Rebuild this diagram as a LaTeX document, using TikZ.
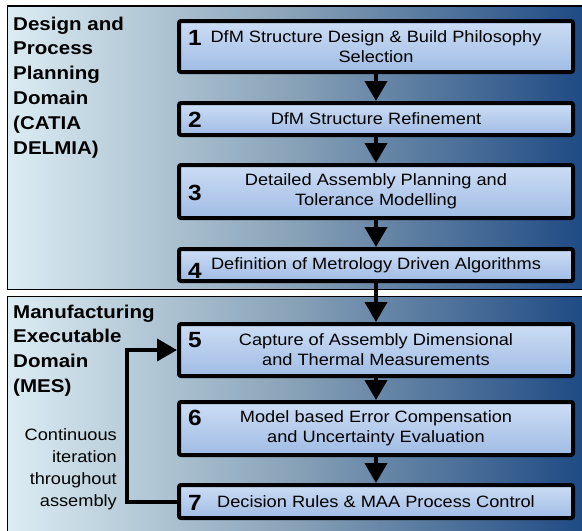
\documentclass[tikz,border=0pt]{standalone}
\usepackage{fontspec}
\setmainfont{Liberation Sans}[FakeStretch=1.11]
\usetikzlibrary{arrows.meta}

\definecolor{panelleft}{RGB}{219,236,243}
\definecolor{panelmid}{RGB}{134,160,182}
\definecolor{panelright}{RGB}{28,72,130}
\definecolor{boxtop}{RGB}{204,221,245}
\definecolor{boxbottom}{RGB}{160,188,228}

\tikzset{
	zone/.style={draw=black, line width=1.5pt, left color=panelleft, right color=panelright, middle color=panelmid},
	stage/.style={draw=black, line width=4pt, rounded corners=2pt, top color=boxtop, bottom color=boxbottom, minimum width=394pt, align=center, inner sep=0pt, font=\fontsize{16.4}{20}\selectfont},
	num/.style={anchor=base west, inner sep=0pt, font=\fontsize{22}{22}\selectfont\bfseries},
	heading/.style={anchor=north west, inner sep=0pt, align=left, font=\fontsize{18.5}{24.8}\selectfont\bfseries},
	flow/.style={line width=4pt, -{Triangle[length=20pt,width=22pt]}}
}

\begin{document}
\begin{tikzpicture}[x=1pt,y=-1pt]
			\useasboundingbox (0,0) rectangle (582,531);
			\draw[zone] (7.5,6) rectangle (590,289.5);
			\draw[zone] (7.5,296.5) rectangle (590,540);
			\node[heading] (planning) at (13,16.5) {Design and\\Process\\Planning\\Domain\\(CATIA\\DELMIA)};
			\node[heading] (manufacturing) at (13,304.5) {Manufacturing\\Executable\\Domain\\(MES)};
			\node[anchor=north east, inner sep=0pt, align=right, font=\fontsize{16.4}{22.3}\selectfont] (iteration) at (117,428) {Continuous\\iteration\\throughout\\assembly};

			\node[stage, minimum height=51pt] (b1) at (376,46.5) {DfM Structure Design \& Build Philosophy\\Selection};
			\node[stage, minimum height=32pt] (b2) at (376,119) {DfM Structure Refinement};
			\node[stage, minimum height=53pt] (b3) at (376,191.5) {Detailed Assembly Planning and\\Tolerance Modelling};
			\node[stage, minimum height=32pt] (b4) at (376,265) {Definition of Metrology Driven Algorithms};
			\node[stage, minimum height=52pt] (b5) at (376,350) {Capture of Assembly Dimensional\\and Thermal Measurements};
			\node[stage, minimum height=53pt] (b6) at (376,428.5) {Model based Error Compensation\\and Uncertainty Evaluation};
			\node[stage, minimum height=33pt] (b7) at (376,501.5) {Decision Rules \& MAA Process Control};

			\node[num] (n1) at (188,45) {1};
			\node[num] (n2) at (188,127) {2};
			\node[num] (n3) at (188,200) {3};
			\node[num] (n4) at (188,278) {4};
			\node[num] (n5) at (188,347) {5};
			\node[num] (n6) at (188,425) {6};
			\node[num] (n7) at (188,510) {7};

			\draw[flow] (b1) -- (b2);
			\draw[flow] (b2) -- (b3);
			\draw[flow] (b3) -- (b4);
			\draw[flow] (b4) -- (b5);
			\draw[flow] (b5) -- (b6);
			\draw[flow] (b6) -- (b7);
			\draw[flow] (b7.west) -- ++(-50,0) |- (b5.west);
\end{tikzpicture}
\end{document}
